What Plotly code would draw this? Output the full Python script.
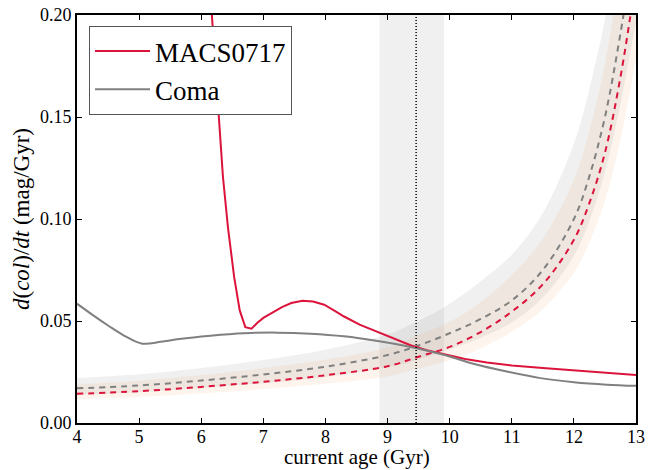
import plotly.graph_objects as go

# ---------------- data ----------------
# observed d(col)/dt curves
macs_age = [6.16, 6.22, 6.27, 6.35, 6.43, 6.53, 6.62, 6.71, 6.81, 6.9, 7.0, 7.15, 7.3, 7.45,
            7.63, 7.8, 7.98, 8.15, 8.3, 8.55, 8.84, 9.1, 9.37, 9.63, 9.96, 10.25, 10.6,
            11.0, 11.5, 12.0, 12.5, 13.0]
macs_rate = [0.205, 0.178, 0.155, 0.1206, 0.096, 0.0716, 0.0552, 0.047, 0.0462, 0.0490,
             0.0515, 0.0543, 0.0568, 0.0588, 0.0599, 0.0596, 0.0580, 0.0550, 0.0522, 0.0482,
             0.0446, 0.0412, 0.0381, 0.0357, 0.0336, 0.0314, 0.0297, 0.0282, 0.0270,
             0.0259, 0.0247, 0.0235]

coma_age = [4.0, 4.25, 4.5, 4.75, 5.05, 5.35, 5.65, 6.15, 6.69, 7.22, 7.76, 8.30, 8.84,
            9.37, 9.96, 10.38, 10.92, 11.46, 12.0, 12.53, 13.0]
coma_rate = [0.0585, 0.0530, 0.0478, 0.0430, 0.0389, 0.0398, 0.0412, 0.0428, 0.0440, 0.0443,
             0.0438, 0.0425, 0.0402, 0.0373, 0.0330, 0.0290, 0.0252, 0.0220, 0.0200,
             0.0188, 0.0182]

# model curves (dashed) and their uncertainty bands
model_age = [4, 5, 6, 7, 8, 9, 9.5, 10, 10.5, 11, 11.5, 12, 12.25, 12.5, 12.75, 13]
coma_model = [0.0170, 0.0184, 0.0208, 0.0238, 0.0276, 0.0333, 0.0380, 0.0440, 0.0510,
              0.0601, 0.0750, 0.1000, 0.1210, 0.1500, 0.1910, 0.2400]
coma_model_hi = [0.0221, 0.0239, 0.0270, 0.0309, 0.0359, 0.0435, 0.0500, 0.0585, 0.0695,
                 0.0825, 0.1030, 0.1370, 0.1640, 0.1980, 0.2483, 0.3120]
coma_model_lo = [0.0139, 0.0151, 0.0171, 0.0195, 0.0226, 0.0273, 0.0312, 0.0361, 0.0418,
                 0.0493, 0.0615, 0.0820, 0.0992, 0.1230, 0.1566, 0.1968]
macs_model = [0.0143, 0.0156, 0.0177, 0.0202, 0.0234, 0.0278, 0.0325, 0.0373, 0.0446,
              0.0546, 0.0680, 0.0898, 0.1079, 0.1325, 0.1696, 0.2180]
macs_model_hi = [0.0190, 0.0207, 0.0235, 0.0269, 0.0311, 0.0370, 0.0432, 0.0496, 0.0593,
                 0.0726, 0.0904, 0.1194, 0.1435, 0.1762, 0.2256, 0.2899]
macs_model_lo = [0.0117, 0.0128, 0.0145, 0.0166, 0.0192, 0.0228, 0.0267, 0.0306, 0.0366,
                 0.0448, 0.0558, 0.0736, 0.0885, 0.1087, 0.1391, 0.1788]

# age estimate (vertical band + dotted line)
age_lo, age_best, age_hi = 8.87, 9.46, 9.91

x_ticks = [4, 5, 6, 7, 8, 9, 10, 11, 12, 13]
y_ticks = [0.00, 0.05, 0.10, 0.15, 0.20]
x_title = "current age (Gyr)"
y_title = "<i>d</i>(<i>col</i>)/<i>dt</i> (mag/Gyr)"

# ---------------- style ----------------
RED = "#DC143C"
GRAY = "#808080"
FONT = "Liberation Serif"
GRAY_FILL = "rgba(128,128,128,0.12)"
ORANGE_FILL = "rgba(240,160,80,0.10)"

fig = go.Figure()

def band(x, lo, hi, color):
    fig.add_trace(go.Scatter(x=x, y=lo, mode="lines", line=dict(width=0, shape="spline"),
                             showlegend=False, hoverinfo="skip"))
    fig.add_trace(go.Scatter(x=x, y=hi, mode="lines", line=dict(width=0, shape="spline"),
                             fill="tonexty", fillcolor=color, showlegend=False,
                             hoverinfo="skip"))

band(model_age, coma_model_lo, coma_model_hi, GRAY_FILL)
band(model_age, macs_model_lo, macs_model_hi, ORANGE_FILL)

fig.add_trace(go.Scatter(x=model_age, y=coma_model, mode="lines",
                         line=dict(color=GRAY, width=2, dash="6px,5px", shape="spline"),
                         showlegend=False))
fig.add_trace(go.Scatter(x=model_age, y=macs_model, mode="lines",
                         line=dict(color=RED, width=2, dash="6px,5px", shape="spline"),
                         showlegend=False))

fig.add_trace(go.Scatter(x=macs_age, y=macs_rate, mode="lines", name="MACS0717",
                         line=dict(color=RED, width=2)))
fig.add_trace(go.Scatter(x=coma_age, y=coma_rate, mode="lines", name="Coma",
                         line=dict(color=GRAY, width=2, shape="spline", smoothing=1.0)))

fig.add_vrect(x0=age_lo, x1=age_hi, fillcolor=GRAY_FILL, line_width=0, layer="below")
fig.add_vline(x=age_best, line=dict(color="black", width=1.5, dash="1px,2px"))

axis_common = dict(showgrid=False, zeroline=False, showline=True, linecolor="black",
                   linewidth=2, mirror="allticks", ticks="inside", ticklen=5,
                   tickwidth=1, tickcolor="black", automargin=True,
                   tickfont=dict(family=FONT, size=18, color="black"))

fig.update_xaxes(range=[4, 13], tickvals=x_ticks, ticktext=[str(v) for v in x_ticks],
                 ticklabelstandoff=-4, **axis_common)
fig.update_yaxes(range=[0, 0.2], tickvals=y_ticks, tickformat=".2f",
                 title=dict(text=y_title,
                            font=dict(family=FONT, size=23, color="black"), standoff=4),
                 **axis_common)

fig.add_annotation(text=x_title, xref="paper", yref="paper", x=0.5, y=0,
                   xanchor="center", yanchor="bottom", yshift=-47, showarrow=False,
                   borderpad=0, font=dict(family=FONT, size=21, color="black"))

fig.update_layout(
    width=659, height=470,
    margin=dict(l=77, r=23, t=15, b=47, autoexpand=False),
    plot_bgcolor="white", paper_bgcolor="white",
    font=dict(family=FONT, color="black"),
    legend=dict(x=0.0215, y=0.973, xanchor="left", yanchor="top",
                bgcolor="white", bordercolor="#555555", borderwidth=1,
                traceorder="normal",
                font=dict(family=FONT, size=27, color="black"),
                itemwidth=55, tracegroupgap=0),
)

fig.write_html("out.html")
